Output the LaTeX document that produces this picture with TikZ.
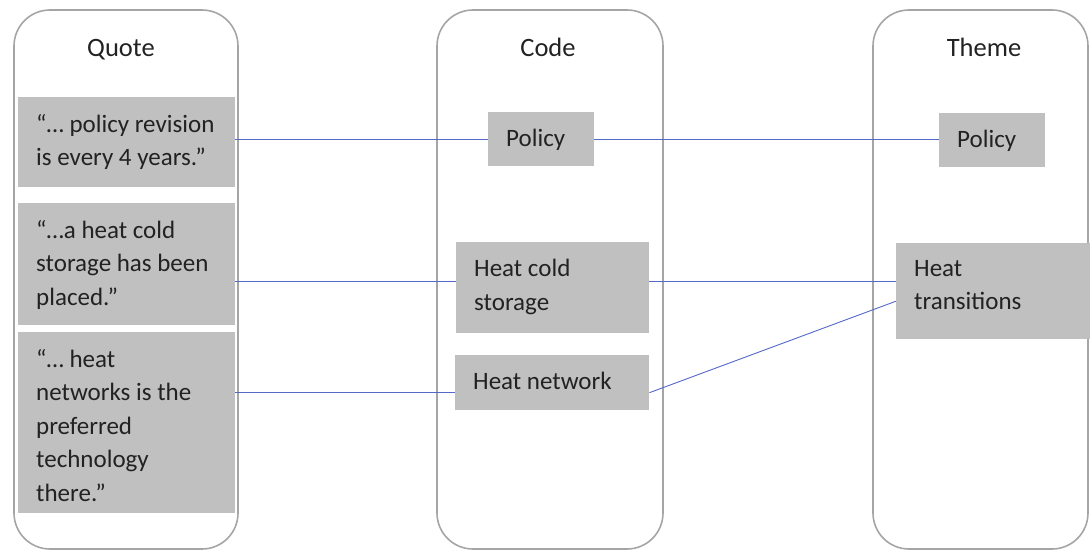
\documentclass[tikz,border=0pt]{standalone}
\usepackage{fontspec}
\setmainfont{Carlito}
\definecolor{lanegray}{HTML}{A5A5A5}
\definecolor{boxgray}{HTML}{C0C0C0}
\definecolor{inkdark}{HTML}{222222}
\definecolor{linkblue}{HTML}{5468C8}
% top-aligned, left-aligned text block of fixed width and height
\newcommand{\cellbox}[3]{\parbox[t][#2][t]{#1}{\raggedright #3}}

\begin{document}
\begin{tikzpicture}[x=1pt,y=-1pt,
  lane/.style={draw=lanegray, line width=1.6pt, rounded corners=36pt},
  title/.style={font=\fontsize{26.5}{32}\selectfont, text=inkdark, inner sep=0pt, anchor=base},
  cell/.style={fill=boxgray, anchor=north west, inner xsep=18pt, inner ysep=17pt,
               text=inkdark, font=\fontsize{25}{33.5}\selectfont},
  link/.style={draw=linkblue, line width=0.9pt}]

\useasboundingbox (0,0) rectangle (1090,551);

% three swimlanes
\draw[lane] (14,10) rectangle (238,549);
\draw[lane] (437,10) rectangle (663,549);
\draw[lane] (873,10) rectangle (1088,549);

% lane headings
\node[title] (tq) at (121,57) {Quote};
\node[title] (tc) at (548,57) {Code};
\node[title] (tt) at (984,57) {Theme};

% quotes
\node[cell] (q1) at (18,97)  {\cellbox{181pt}{56pt}{“… policy revision\\ is every 4 years.”}};
\node[cell] (q2) at (18,203) {\cellbox{181pt}{88pt}{“…a heat cold\\ storage has been\\ placed.”}};
\node[cell] (q3) at (18,332) {\cellbox{181pt}{147pt}{“… heat\\ networks is the\\ preferred\\ technology\\ there.”}};

% codes
\node[cell] (cpol) at (488,112) {\cellbox{70pt}{20pt}{Policy}};
\node[cell] (hcs)  at (456,242) {\cellbox{157pt}{57pt}{Heat cold\\ storage}};
\node[cell] (hn)   at (455,355) {\cellbox{158pt}{21pt}{Heat network}};

% themes
\node[cell] (tpol) at (939,113) {\cellbox{70pt}{20pt}{Policy}};
\node[cell] (ht)   at (896,243) {\cellbox{158pt}{62pt}{Heat\\ transitions}};

% links
\draw[link] (cpol.west) -- (cpol.west -| q1.east);
\draw[link] (cpol.east) -- (cpol.east -| tpol.west);
\draw[link] ([yshift=6pt]hcs.west) -- ([yshift=6pt]hcs.west -| q2.east);
\draw[link] ([yshift=6pt]hcs.east) -- ([yshift=6pt]hcs.east -| ht.west);
\draw[link] ([yshift=-10pt]hn.west) -- ([yshift=-10pt]hn.west -| q3.east);
\draw[link] ([yshift=-10pt]hn.east) -- ([yshift=-10pt]ht.west);
\end{tikzpicture}
\end{document}
